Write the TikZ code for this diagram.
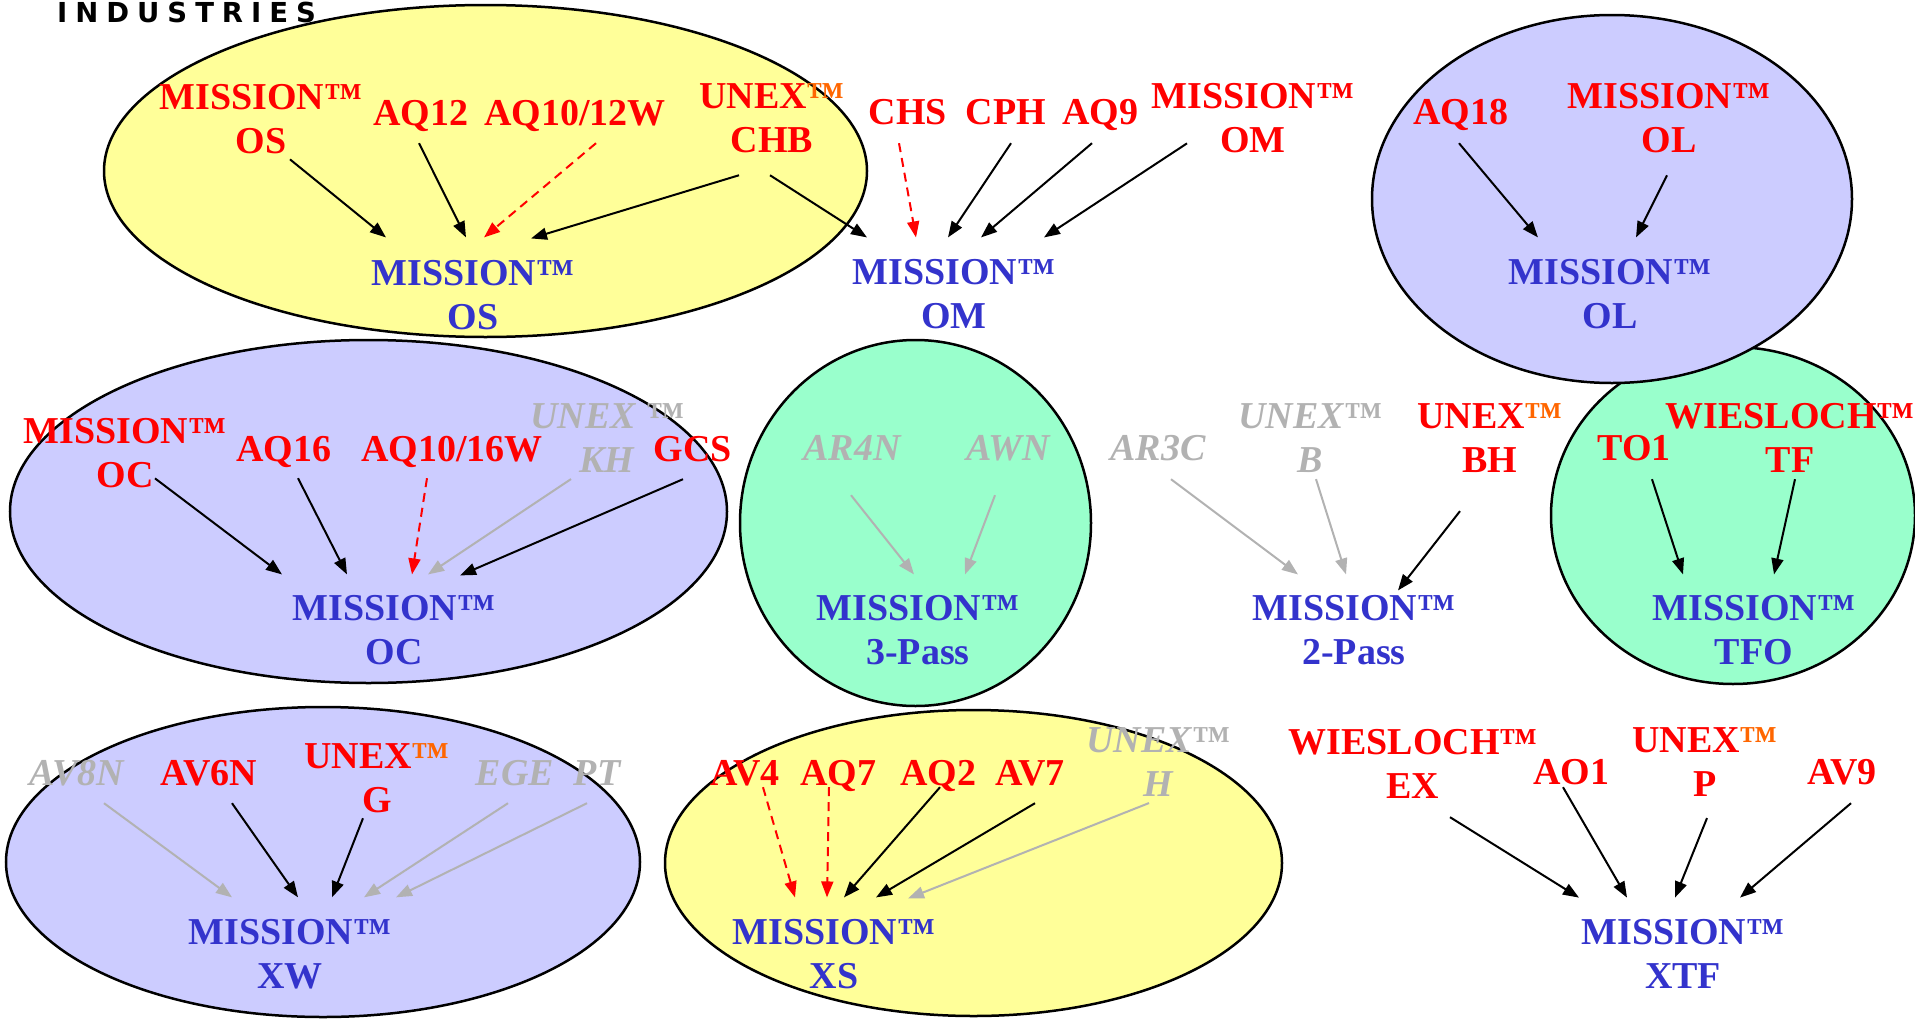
\documentclass[tikz,border=0pt]{standalone}
\usepackage{fontspec}
\setmainfont{Liberation Serif}
\newfontfamily\logofont[LetterSpace=29]{DejaVu Sans}
\usetikzlibrary{arrows.meta}
\definecolor{redtxt}{RGB}{255,0,0}
\definecolor{bluetxt}{RGB}{51,51,204}
\definecolor{graytxt}{RGB}{178,178,178}
\definecolor{orngtm}{RGB}{255,102,0}
\definecolor{yelfill}{RGB}{255,255,153}
\definecolor{lilfill}{RGB}{204,204,255}
\definecolor{mintfill}{RGB}{153,255,204}
\newcommand{\otm}{{\color{orngtm}™}}
\tikzset{
  lbl/.style={inner sep=0pt, align=center, font=\fontsize{38}{44}\selectfont\bfseries},
  src/.style={lbl, text=redtxt},
  gsrc/.style={lbl, text=graytxt, font=\fontsize{38}{44}\selectfont\bfseries\itshape},
  tgt/.style={lbl, text=bluetxt},
  one/.style={text height=25pt, text depth=0pt},
  blk/.style={line width=2pt, -{Triangle[length=16pt,width=12pt]}},
  gry/.style={blk, draw=graytxt},
  dsh/.style={blk, draw=redtxt, dash pattern=on 9pt off 6pt},
  grp/.style={line width=2.5pt, draw=black}
}

\begin{document}
\begin{tikzpicture}[x=1pt, y=-1pt]
\useasboundingbox (0,0) rectangle (1915,1020);

% group backgrounds
\draw[grp, fill=yelfill] (485.5,171) ellipse [x radius=381.5pt, y radius=166pt];
\draw[grp, fill=mintfill] (1733,515.5) ellipse [x radius=182pt, y radius=168.5pt];
\draw[grp, fill=lilfill] (1612,199) ellipse [x radius=240pt, y radius=184pt];
\draw[grp, fill=lilfill] (368.5,511.5) ellipse [x radius=358.5pt, y radius=171.5pt];
\draw[grp, fill=mintfill] (915.5,523) ellipse [x radius=175.5pt, y radius=183pt];
\draw[grp, fill=lilfill] (323,862) ellipse [x radius=317pt, y radius=155pt];
\draw[grp, fill=yelfill] (973.5,863) ellipse [x radius=308.5pt, y radius=153pt];

\node[anchor=base west, inner sep=0pt, font=\logofont\fontsize{27.5}{30}\selectfont\bfseries] (logo) at (57,22) {INDUSTRIES};

% OS
\node[src] (osMis) at (261,119.4) {MISSION™\\OS};
\node[src, one] (osAQ12) at (421,112.5) {AQ12};
\node[src, one] (osAQ10) at (575,112.5) {AQ10/12W};
\node[src] (osCHB) at (772,118.4) {UNEX\otm\\CHB};
\node[tgt] (os) at (473,295.4) {MISSION™\\OS};
\draw[blk] ([shift={(29,5)}]osMis.south) -- ([shift={(-87,-23)}]os.north);
\draw[blk] ([shift={(-2,18)}]osAQ12.south) -- ([shift={(-7,-23)}]os.north);
\draw[dsh] ([shift={(21,18)}]osAQ10.south) -- ([shift={(11,-23)}]os.north);
\draw[blk] ([shift={(-33,22)}]osCHB.south) -- ([shift={(58,-22)}]os.north);

% OM
\node[src, one] (omCHS) at (908,111.5) {CHS};
\node[src, one] (omCPH) at (1006,111.5) {CPH};
\node[src, one] (omAQ9) at (1100,111.5) {AQ9};
\node[src] (omMis) at (1253,118.4) {MISSION™\\OM};
\node[tgt] (om) at (954,294.4) {MISSION™\\OM};
\draw[blk] ([shift={(-2,22)}]osCHB.south) -- ([shift={(-87,-22)}]om.north);
\draw[dsh] ([shift={(-9,19)}]omCHS.south) -- ([shift={(-38,-22)}]om.north);
\draw[blk] ([shift={(5,19)}]omCPH.south) -- ([shift={(-6,-22)}]om.north);
\draw[blk] ([shift={(-8,19)}]omAQ9.south) -- ([shift={(27,-22)}]om.north);
\draw[blk] ([shift={(-66,-10)}]omMis.south) -- ([shift={(90,-22)}]om.north);

% OL
\node[src, one] (olAQ18) at (1461,111.5) {AQ18};
\node[src] (olMis) at (1669,118.4) {MISSION™\\OL};
\node[tgt] (ol) at (1610,294.4) {MISSION™\\OL};
\draw[blk] ([shift={(-2,19)}]olAQ18.south) -- ([shift={(-72,-22)}]ol.north);
\draw[blk] ([shift={(-2,22)}]olMis.south) -- ([shift={(26,-22)}]ol.north);

% OC
\node[src] (ocMis) at (125,453.4) {MISSION™\\OC};
\node[src, one] (ocAQ16) at (284,448.5) {AQ16};
\node[src, one] (ocAQ10) at (452,448.5) {AQ10/16W};
\node[gsrc] (ocKH) at (607,438.4) {UNEX ™\\KH};
\node[src, one] (ocGCS) at (693,448.5) {GCS};
\node[tgt] (oc) at (394,630.4) {MISSION™\\OC};
\draw[blk] ([shift={(30,-10)}]ocMis.south) -- ([shift={(-112,-21)}]oc.north);
\draw[blk] ([shift={(14,17)}]ocAQ16.south) -- ([shift={(-47,-21)}]oc.north);
\draw[dsh] ([shift={(-25,17)}]ocAQ10.south) -- ([shift={(18,-21)}]oc.north);
\draw[gry] ([shift={(-36,6)}]ocKH.south) -- ([shift={(34,-21)}]oc.north);
\draw[blk] ([shift={(-10,18)}]ocGCS.south) -- ([shift={(66,-20)}]oc.north);

% 3-Pass
\node[gsrc, one] (tpAR4N) at (852,447.5) {AR4N};
\node[gsrc, one] (tpAWN) at (1008,447.5) {AWN};
\node[tgt] (tp) at (918,630.4) {MISSION™\\3-Pass};
\draw[gry] ([shift={(-1,35)}]tpAR4N.south) -- ([shift={(-4,-21)}]tp.north);
\draw[gry] ([shift={(-13,35)}]tpAWN.south) -- ([shift={(47,-21)}]tp.north);

% 2-Pass
\node[gsrc, one] (twAR3C) at (1158,447.5) {AR3C};
\node[gsrc] (twB) at (1310,438.4) {UNEX™\\B};
\node[src] (twBH) at (1490,438.4) {UNEX\otm\\BH};
\node[tgt] (tw) at (1354,630.4) {MISSION™\\2-Pass};
\draw[gry] ([shift={(13,19)}]twAR3C.south) -- ([shift={(-56,-21)}]tw.north);
\draw[gry] ([shift={(6,6)}]twB.south) -- ([shift={(-8,-21)}]tw.north);
\draw[blk] ([shift={(-30,38)}]twBH.south) -- ([shift={(44,-5)}]tw.north);

% TFO
\node[src, one] (tfTO1) at (1634,447.5) {TO1};
\node[src] (tfTF) at (1790,438.4) {WIESLOCH™\\TF};
\node[tgt] (tf) at (1754,630.4) {MISSION™\\TFO};
\draw[blk] ([shift={(18,19)}]tfTO1.south) -- ([shift={(-71,-21)}]tf.north);
\draw[blk] ([shift={(5,6)}]tfTF.south) -- ([shift={(20,-21)}]tf.north);

% XW
\node[gsrc, one] (xwAV8N) at (77,772.5) {AV8N};
\node[src, one] (xwAV6N) at (209,772.5) {AV6N};
\node[src] (xwG) at (377,778.4) {UNEX\otm\\G};
\node[gsrc, one] (xwEGE) at (515,772.5) {EGE};
\node[gsrc, one] (xwPT) at (597,772.5) {PT};
\node[tgt] (xw) at (290,954.4) {MISSION™\\XW};
\draw[gry] ([shift={(27,18)}]xwAV8N.south) -- ([shift={(-58,-22)}]xw.north);
\draw[blk] ([shift={(23,18)}]xwAV6N.south) -- ([shift={(8,-22)}]xw.north);
\draw[blk] ([shift={(-14,5)}]xwG.south) -- ([shift={(42,-22)}]xw.north);
\draw[gry] ([shift={(-7,18)}]xwEGE.south) -- ([shift={(74,-22)}]xw.north);
\draw[gry] ([shift={(-10,18)}]xwPT.south) -- ([shift={(106,-22)}]xw.north);

% XS
\node[src, one] (xsAV4) at (745,772.5) {AV4};
\node[src, one] (xsAQ7) at (838,772.5) {AQ7};
\node[src, one] (xsAQ2) at (938,772.5) {AQ2};
\node[src, one] (xsAV7) at (1030,772.5) {AV7};
\node[gsrc] (xsH) at (1158,762.4) {UNEX™\\H};
\node[tgt] (xs) at (834,954.4) {MISSION™\\XS};
\draw[dsh] ([shift={(18,2)}]xsAV4.south) -- ([shift={(-39,-22)}]xs.north);
\draw[dsh] ([shift={(-9,2)}]xsAQ7.south) -- ([shift={(-7,-22)}]xs.north);
\draw[blk] ([shift={(2,2)}]xsAQ2.south) -- ([shift={(10,-22)}]xs.north);
\draw[blk] ([shift={(5,18)}]xsAV7.south) -- ([shift={(42,-22)}]xs.north);
\draw[gry] ([shift={(-9,6)}]xsH.south) -- ([shift={(74,-21)}]xs.north);

% XTF
\node[src] (xtEX) at (1413,764.4) {WIESLOCH™\\EX};
\node[src, one] (xtAO1) at (1571,771.5) {AO1};
\node[src] (xtP) at (1705,762.4) {UNEX\otm\\P};
\node[src, one] (xtAV9) at (1842,771.5) {AV9};
\node[tgt] (xt) at (1683,954.4) {MISSION™\\XTF};
\draw[blk] ([shift={(37,18)}]xtEX.south) -- ([shift={(-104,-22)}]xt.north);
\draw[blk] ([shift={(-8,3)}]xtAO1.south) -- ([shift={(-56,-22)}]xt.north);
\draw[blk] ([shift={(2,21)}]xtP.south) -- ([shift={(-8,-22)}]xt.north);
\draw[blk] ([shift={(9,19)}]xtAV9.south) -- ([shift={(57,-22)}]xt.north);
\end{tikzpicture}
\end{document}
